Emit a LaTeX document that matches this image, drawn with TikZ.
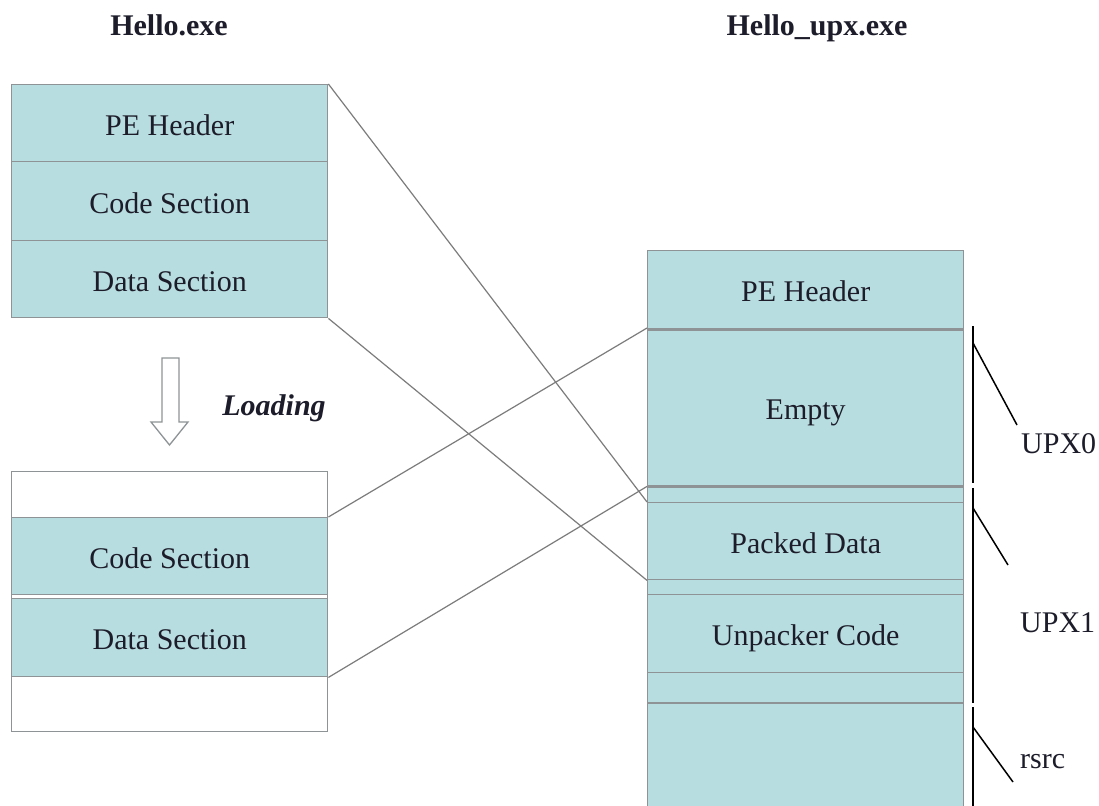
\documentclass[tikz,border=0pt]{standalone}
\usepackage{fontspec}
\setmainfont{Liberation Serif}
\definecolor{cell}{HTML}{B7DDE0}
\definecolor{edge}{HTML}{8E9496}
\definecolor{wire}{HTML}{7C7C7C}
\definecolor{txt}{HTML}{1C1C2A}
\tikzset{
  every node/.style={font=\fontsize{30}{34}\selectfont, text=txt,
                     text height=24pt, text depth=0pt},
  sec/.style={draw=edge, line width=1.4pt, fill=cell, inner sep=0pt,
              minimum width=316pt, anchor=north west},
  blank/.style={sec, fill=white},
  link/.style={draw=wire, line width=1.2pt},
  bracket/.style={draw=black, line width=1.5pt},
  divider/.style={draw=edge, line width=2.8pt},
  label/.style={anchor=base west, inner sep=0pt},
  title/.style={font=\fontsize{30}{34}\selectfont\bfseries},
}
\begin{document}
\begin{tikzpicture}[x=1pt, y=-1pt]
\clip (0,0) rectangle (1099,805);
\fill[white] (0,0) rectangle (1099,805);

% titles
\node[title] (t1) at (169,24) {Hello.exe};
\node[title] (t2) at (817,24) {Hello\_upx.exe};

% file on disk
\node[sec, minimum height=77pt] (lpe)   at (11,84)  {PE Header};
\node[sec, minimum height=79pt] (lcode) at (11,161) {Code Section};
\node[sec, minimum height=77pt] (ldata) at (11,240) {Data Section};

% loading arrow
\draw[draw=edge, line width=1.3pt, fill=white]
  (162,358) -- (179,358) -- (179,422) -- (188,422) -- (169.5,445)
  -- (151,422) -- (162,422) -- cycle;
\node[title, font=\fontsize{30}{34}\selectfont\bfseries\itshape] (load) at (274,403) {Loading};

% image in memory
\node[blank, minimum height=260pt] (mem) at (11,471) {};
\node[sec, minimum height=77pt] (mcode) at (11,517) {Code Section};
\node[sec, minimum height=78pt] (mdata) at (11,598) {Data Section};

% packed file
\node[sec, minimum height=78pt]  (rpe)    at (647,250) {PE Header};
\node[sec, minimum height=157pt] (empty)  at (647,328) {Empty};
\node[sec, minimum height=17pt]  (stripa) at (647,485) {};
\node[sec, minimum height=77pt]  (packed) at (647,502) {Packed Data};
\node[sec, minimum height=15pt]  (stripb) at (647,579) {};
\node[sec, minimum height=78pt]  (unpack) at (647,594) {Unpacker Code};
\node[sec, minimum height=31pt]  (stripc) at (647,672) {};
\node[sec, minimum height=130pt] (rsrc)   at (647,703) {};
\draw[divider] (rpe.south west) -- (rpe.south east);
\draw[divider] (empty.south west) -- (empty.south east);
\draw[divider] (rsrc.north west) -- (rsrc.north east);

% section mapping
\draw[link] (lpe.north east) -- (packed.north west);
\draw[link] (ldata.south east) -- (packed.south west);
\draw[link] (mcode.north east) -- (empty.north west);
\draw[link] (mdata.south east) -- (empty.south west);

% section brackets
\coordinate (u0a) at (973,326);
\coordinate (u0b) at (973,483);
\coordinate (u1a) at (973,488);
\coordinate (u1b) at (973,703);
\coordinate (rsa) at (973,707);
\coordinate (rsb) at (973,810);
\draw[bracket] (u0a) -- (u0b);
\draw[bracket] (u1a) -- (u1b);
\draw[bracket] (rsa) -- (rsb);
\coordinate (d0a) at (973,343);
\coordinate (d0b) at (1017,425);
\coordinate (d1a) at (973,508);
\coordinate (d1b) at (1008,565);
\coordinate (d2a) at (973,727);
\coordinate (d2b) at (1013,782);
\draw[bracket] (d0a) -- (d0b);
\draw[bracket] (d1a) -- (d1b);
\draw[bracket] (d2a) -- (d2b);
\node[label] (upx0) at (1021,453) {UPX0};
\node[label] (upx1) at (1020,632) {UPX1};
\node[label] (rs)   at (1020,768) {rsrc};
\end{tikzpicture}
\end{document}
